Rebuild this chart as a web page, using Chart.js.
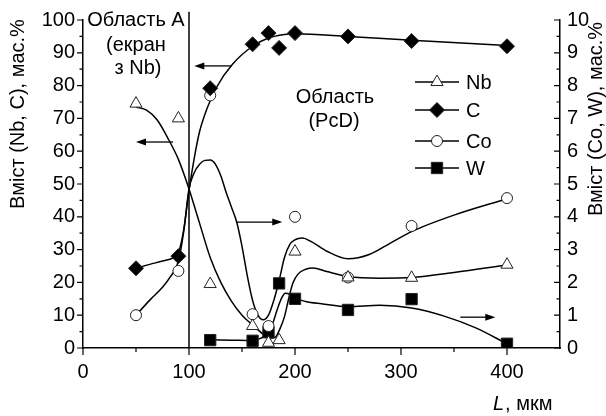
<!DOCTYPE html>
<html>
<head>
<meta charset="utf-8">
<script src="https://cdn.jsdelivr.net/npm/chart.js@4"></script>
<style>
  html, body { margin: 0; padding: 0; background: #fff; }
</style>
</head>
<body>
<canvas id="my-chart" width="606" height="416"></canvas>
<script>
'use strict';

// ************************* DATA ***************************

// measured points, L in мкм
let nbLengths = [50, 90, 120, 160, 175, 185, 200, 250, 310, 400];
let nbValues = [74.5, 70, 19.5, 6.7, 1.6, 2.4, 29.4, 21.5, 21.4, 25.4];
let cLengths = [50, 90, 120, 160, 175, 185, 200, 250, 310, 400];
let cValues = [24.3, 28, 79.2, 92.6, 96, 91.5, 96, 95, 93.6, 92];
let coLengths = [50, 90, 120, 160, 175, 200, 250, 310, 400];
let coValues = [1.0, 2.35, 7.7, 1.03, 0.67, 4.0, 2.15, 3.72, 4.57];
let wLengths = [120, 160, 175, 185, 200, 250, 310, 400];
let wValues = [0.24, 0.22, 0.48, 1.97, 1.5, 1.16, 1.49, 0.13];

// fitted curves
let nbCurveX = [50, 60, 70, 80, 90, 100, 110, 120, 130, 140, 150, 160, 170, 176, 181, 186, 190, 194, 198, 203, 210, 217, 230, 250, 280, 310, 350, 400];
let nbCurveY = [73.5, 72.5, 69.5, 64, 57.5, 48.5, 38, 27.6, 20, 14.3, 10, 7, 4.2, 3, 3.2, 6, 9.5, 15, 19.8, 22.6, 24, 24.4, 23.3, 21.8, 21.3, 21.5, 23, 25.3];
let cCurveX = [50, 63, 75, 85, 90, 95, 100, 105, 110, 117, 126, 141, 160, 175, 190, 200, 250, 310, 400];
let cCurveY = [24.3, 25.5, 26.5, 27.5, 29, 36, 48, 58, 66, 73, 79.5, 86.5, 92, 94.5, 95.6, 95.8, 95, 93.8, 92.2];
let coCurveX = [50, 63, 75, 82, 90, 95, 100, 105, 110, 115, 120, 125, 130, 135, 140, 145, 150, 155, 160, 165, 170, 175, 180, 185, 190, 195, 200, 207, 215, 230, 250, 270, 290, 310, 350, 400];
let coCurveY = [1.0, 1.46, 1.85, 2.15, 2.65, 3.55, 4.85, 5.35, 5.6, 5.72, 5.73, 5.6, 5.25, 4.75, 4.3, 3.84, 3.1, 2.2, 1.45, 1.0, 0.86, 1.0, 1.45, 2.05, 2.75, 3.15, 3.3, 3.35, 3.25, 2.95, 2.72, 2.85, 3.2, 3.55, 4.05, 4.55];
let wCurveX = [120, 140, 160, 168, 174, 179, 183, 187, 191, 195, 200, 210, 225, 250, 280, 310, 340, 370, 400];
let wCurveY = [0.25, 0.24, 0.23, 0.3, 0.45, 0.75, 1.15, 1.5, 1.67, 1.64, 1.52, 1.42, 1.35, 1.26, 1.3, 1.22, 0.98, 0.62, 0.13];

let xTicks = [0, 100, 200, 300, 400];
let legendNames = ['Nb', 'C', 'Co', 'W'];
let regionLine = 100;

// arrows: [from L, to L, value, axis]
let arrows = [
  [140, 105, 86, 'y'],
  [85, 50, 62.8, 'y'],
  [145, 188, 3.84, 'y2'],
  [356, 389, 0.94, 'y2']
];

// ************************* STYLES ***************************

let fontFamily = "Arial, 'Liberation Sans', sans-serif";
let tickFont = { family: fontFamily, size: 20 };
let markers = [
  { pointStyle: 'triangle', radius: 7, fill: '#fff' },
  { pointStyle: 'rectRot', radius: 7.5, fill: '#000' },
  { pointStyle: 'circle', radius: 5.5, fill: '#fff' },
  { pointStyle: 'rect', radius: 8, fill: '#000' }
];

// ************************* HELPERS ***************************

function toPoints(xs, ys) {
  return xs.map((v, i) => ({ x: v, y: ys[i] }));
}

function markerSet(xs, ys, m, axis) {
  return {
    data: toPoints(xs, ys),
    yAxisID: axis,
    showLine: false,
    pointStyle: m.pointStyle,
    pointRadius: m.radius,
    pointBackgroundColor: m.fill,
    pointBorderColor: '#222',
    pointBorderWidth: 1
  };
}

function curveSet(xs, ys, axis) {
  return {
    data: toPoints(xs, ys),
    yAxisID: axis,
    borderColor: '#000',
    borderWidth: 1.5,
    pointRadius: 0,
    cubicInterpolationMode: 'monotone',
    fill: false
  };
}

function drawArrow(ctx, x1, y1, x2, y2) {
  let dir = x2 > x1 ? 1 : -1;
  ctx.beginPath();
  ctx.moveTo(x1, y1);
  ctx.lineTo(x2 - dir * 6, y2);
  ctx.stroke();
  ctx.beginPath();
  ctx.moveTo(x2, y2);
  ctx.lineTo(x2 - dir * 10, y2 - 3.5);
  ctx.lineTo(x2 - dir * 10, y2 + 3.5);
  ctx.closePath();
  ctx.fill();
}

// ************************* PLUGIN ***************************

let decorPlugin = {
  id: 'decor',
  afterDraw(chart) {
    let ctx = chart.ctx;
    let xs = chart.scales.x;
    let yL = chart.scales.y;
    let yR = chart.scales.y2;
    let area = chart.chartArea;

    ctx.save();
    ctx.strokeStyle = '#000';
    ctx.fillStyle = '#000';

    // ticks, major and minor
    ctx.lineWidth = 1.2;
    ctx.beginPath();
    for (let v = 0; v <= 400; v += 50) {
      let px = xs.getPixelForValue(v);
      ctx.moveTo(px, area.bottom);
      ctx.lineTo(px, area.bottom + (v % 100 === 0 ? 7 : 4));
    }
    for (let v = 0; v <= 100; v += 5) {
      let py = yL.getPixelForValue(v);
      ctx.moveTo(area.left, py);
      ctx.lineTo(area.left - (v % 10 === 0 ? 6 : 3.5), py);
    }
    for (let v = 0; v <= 10; v += 0.5) {
      let py = yR.getPixelForValue(v);
      ctx.moveTo(area.right, py);
      ctx.lineTo(area.right - (Number.isInteger(v) ? 6 : 3.5), py);
    }
    ctx.stroke();

    // boundary of region A
    ctx.lineWidth = 1.5;
    ctx.beginPath();
    let lx = xs.getPixelForValue(regionLine);
    ctx.moveTo(lx, yL.getPixelForValue(0));
    ctx.lineTo(lx, yL.getPixelForValue(102.5));
    ctx.stroke();

    // arrows to the axes
    ctx.lineWidth = 1.3;
    arrows.forEach(a => {
      let sc = a[3] === 'y' ? yL : yR;
      let py = sc.getPixelForValue(a[2]);
      drawArrow(ctx, xs.getPixelForValue(a[0]), py, xs.getPixelForValue(a[1]), py);
    });

    // texts
    ctx.font = '20px ' + fontFamily;
    ctx.textAlign = 'center';
    ctx.textBaseline = 'middle';
    ctx.fillText('Область А', 136, 20);
    ctx.fillText('(екран', 136, 45);
    ctx.fillText('з Nb)', 138, 68);
    ctx.fillText('Область', 335, 97);
    ctx.fillText('(PcD)', 334, 121);

    // axis titles
    ctx.save();
    ctx.translate(18, 114);
    ctx.rotate(-Math.PI / 2);
    ctx.fillText('Вміст (Nb, C), мас.%', 0, 0);
    ctx.restore();
    ctx.save();
    ctx.translate(596, 119);
    ctx.rotate(-Math.PI / 2);
    ctx.fillText('Вміст (Co, W), мас.%', 0, 0);
    ctx.restore();

    ctx.textAlign = 'left';
    ctx.font = 'italic 20px ' + fontFamily;
    ctx.fillText('L', 493, 404);
    let lw = ctx.measureText('L').width;
    ctx.font = '20px ' + fontFamily;
    ctx.fillText(', мкм', 493 + lw + 1, 404);

    // legend
    let rows = [82, 110, 141, 168];
    legendNames.forEach((name, i) => {
      let y = rows[i];
      ctx.lineWidth = 1.3;
      ctx.beginPath();
      ctx.moveTo(415, y);
      ctx.lineTo(459, y);
      ctx.stroke();
      ctx.fillStyle = markers[i].fill;
      ctx.strokeStyle = '#222';
      ctx.lineWidth = 1;
      Chart.helpers.drawPoint(ctx, {
        pointStyle: markers[i].pointStyle,
        radius: markers[i].radius,
        borderWidth: 1,
        rotation: 0
      }, 437, y);
      ctx.fillStyle = '#000';
      ctx.strokeStyle = '#000';
      ctx.fillText(name, 466, y + 1);
    });

    ctx.restore();
  }
};

// ************************* CHART ***************************

let ctx = document.getElementById('my-chart').getContext('2d');

let datasets = [
  markerSet(nbLengths, nbValues, markers[0], 'y'),
  markerSet(cLengths, cValues, markers[1], 'y'),
  markerSet(coLengths, coValues, markers[2], 'y2'),
  markerSet(wLengths, wValues, markers[3], 'y2'),
  curveSet(nbCurveX, nbCurveY, 'y'),
  curveSet(cCurveX, cCurveY, 'y'),
  curveSet(coCurveX, coCurveY, 'y2'),
  curveSet(wCurveX, wCurveY, 'y2')
];

let axisBorder = { display: true, color: '#000', width: 1.5 };

new Chart(ctx, {
  type: 'line',
  data: { datasets: datasets },
  options: {
    responsive: false,
    animation: false,
    layout: { padding: { top: 20, left: 0, right: 0, bottom: 0 } },
    plugins: { legend: { display: false }, tooltip: { enabled: false } },
    scales: {
      x: {
        type: 'linear',
        min: 0,
        max: 450,
        afterBuildTicks: s => { s.ticks = xTicks.map(v => ({ value: v })); },
        afterFit: s => { s.height = 68; },
        grid: { display: false, drawTicks: false },
        border: axisBorder,
        ticks: { font: tickFont, color: '#000', padding: 12, maxRotation: 0 }
      },
      y: {
        position: 'left',
        min: 0,
        max: 100,
        afterFit: s => { s.width = 83; },
        grid: { display: false, drawTicks: false },
        border: axisBorder,
        ticks: { stepSize: 10, font: tickFont, color: '#000', padding: 8 }
      },
      y2: {
        position: 'right',
        min: 0,
        max: 10,
        afterFit: s => { s.width = 46; },
        grid: { display: false, drawTicks: false },
        border: axisBorder,
        ticks: { stepSize: 1, font: tickFont, color: '#000', padding: 7 }
      }
    }
  },
  plugins: [decorPlugin]
});
</script>
</body>
</html>
